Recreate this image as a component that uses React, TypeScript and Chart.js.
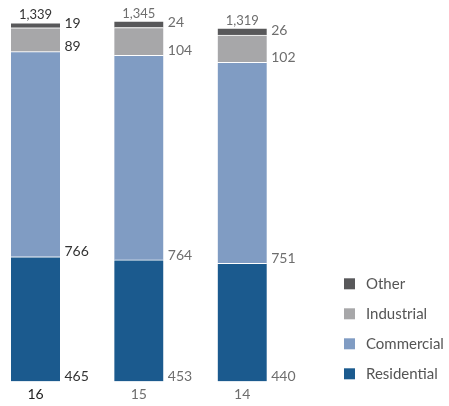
import React, { useEffect, useRef } from "react";
import { Chart, registerables } from "chart.js";

Chart.register(...registerables);

const categories = ["16", "15", "14"];
const residential = [465, 453, 440];
const commercial = [766, 764, 751];
const industrial = [89, 104, 102];
const other = [19, 24, 26];

const seriesNames = ["Residential", "Commercial", "Industrial", "Other"];
const seriesColors = ["#1b5a8e", "#809cc3", "#a7a7a9", "#58585a"];
const seriesValues = [residential, commercial, industrial, other];

const FONT = "Lato, 'Open Sans', sans-serif";

const labelsPlugin = {
  id: "valueLabels",
  afterDatasetsDraw(chart: any) {
    const ctx = chart.ctx;
    ctx.save();
    const n = chart.data.datasets.length;
    chart.data.datasets.forEach((ds: any, di: number) => {
      const meta = chart.getDatasetMeta(di);
      meta.data.forEach((bar: any, i: number) => {
        const p = bar.getProps(["x", "y", "base", "width"], true);
        ctx.fillStyle = i === 0 ? "#333333" : "#6e6e6e";
        ctx.font = `14px ${FONT}`;
        ctx.textAlign = "left";
        ctx.textBaseline = "alphabetic";
        ctx.fillText(String(ds.data[i]), p.x + p.width / 2 + 4.5, p.base - 0.3);
      });
    });
    const lastMeta = chart.getDatasetMeta(n - 1);
    lastMeta.data.forEach((bar: any, i: number) => {
      const p = bar.getProps(["x", "y"], true);
      let total = 0;
      chart.data.datasets.forEach((ds: any) => (total += ds.data[i]));
      ctx.fillStyle = i === 0 ? "#333333" : "#6e6e6e";
      ctx.font = `13px ${FONT}`;
      ctx.textAlign = "center";
      ctx.textBaseline = "alphabetic";
      ctx.fillText(total.toLocaleString("en-US"), p.x, p.y - 3.5);
    });
    ctx.restore();
  },
};

const legendPlugin = {
  id: "sideLegend",
  afterDraw(chart: any) {
    const ctx = chart.ctx;
    ctx.save();
    const ds = chart.data.datasets.slice().reverse();
    ds.forEach((d: any, k: number) => {
      const cy = 283.8 + k * 30;
      ctx.fillStyle = d.backgroundColor;
      ctx.fillRect(344, cy - 5.5, 11, 11);
      ctx.fillStyle = "#555555";
      ctx.font = `15px ${FONT}`;
      ctx.textAlign = "left";
      ctx.textBaseline = "alphabetic";
      ctx.fillText(d.label, 366, cy + 5.5);
    });
    ctx.restore();
  },
};

export default function App() {
  const ref = useRef<HTMLCanvasElement | null>(null);
  useEffect(() => {
    if (!ref.current) return;
    Chart.defaults.font.family = FONT;
    const chart = new Chart(ref.current, {
      type: "bar",
      data: {
        labels: categories,
        datasets: seriesNames.map((name, k) => ({
          label: name,
          data: seriesValues[k],
          backgroundColor: seriesColors[k],
          borderColor: "#ffffff",
          borderWidth: { top: 1, left: 0, right: 0, bottom: 0 },
          borderSkipped: false,
          barThickness: 49,
          clip: false as any,
        })),
      },
      options: {
        animation: false,
        responsive: true,
        maintainAspectRatio: false,
        layout: { padding: { left: 35.5, right: 206.8, top: 6.4, bottom: -2 } },
        plugins: { legend: { display: false }, tooltip: { enabled: false } },
        scales: {
          x: {
            stacked: true,
            offset: false,
            grid: { display: false, drawTicks: false },
            border: { display: false },
            ticks: {
              padding: 5,
              font: { size: 14, family: FONT },
              color: (c: any) => (c.index === 0 ? "#222222" : "#6e6e6e"),
            },
          },
          y: {
            stacked: true,
            display: false,
            min: 0,
            max: 1400,
          },
        },
      },
      plugins: [labelsPlugin, legendPlugin],
    });
    return () => chart.destroy();
  }, []);
  return (
    <div style={{ position: "fixed", left: 0, top: 0, width: 449, height: 406, background: "#fff" }}>
      <canvas ref={ref} />
    </div>
  );
}
